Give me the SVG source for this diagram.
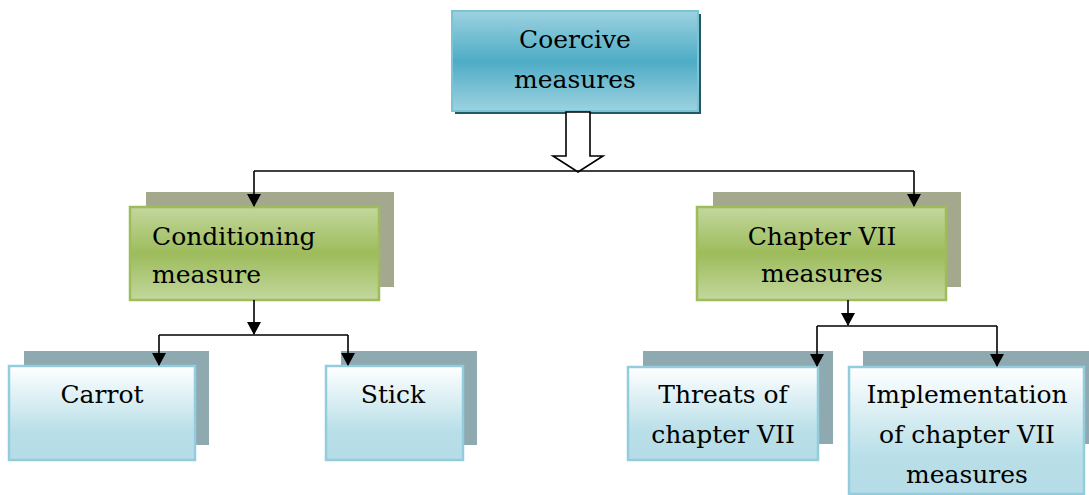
<svg xmlns="http://www.w3.org/2000/svg" width="1089" height="495" viewBox="0 0 1089 495">
<defs>
<linearGradient id="gTop" x1="0" y1="0" x2="0" y2="1">
<stop offset="0" stop-color="#9dd2e0"/><stop offset="0.5" stop-color="#4eacc6"/><stop offset="1" stop-color="#9dd2e0"/>
</linearGradient>
<linearGradient id="gGreen" x1="0" y1="0" x2="0" y2="1">
<stop offset="0" stop-color="#c3d79d"/><stop offset="0.5" stop-color="#9dbc5b"/><stop offset="1" stop-color="#c3d79d"/>
</linearGradient>
<linearGradient id="gBlue" x1="0" y1="0" x2="0" y2="1">
<stop offset="0" stop-color="#ffffff"/><stop offset="0.7" stop-color="#b8dfe8"/><stop offset="1" stop-color="#b6dde7"/>
</linearGradient>
<marker id="ah" markerWidth="14" markerHeight="14" refX="12" refY="7" orient="auto" markerUnits="userSpaceOnUse">
<path d="M0,0 L13,7 L0,14 Z" fill="#000"/>
</marker>
<style>
.c{text-anchor:middle}
.conn{fill:none;stroke:#000;stroke-width:1.6}
.shG{fill:#a4a98e}
.shB{fill:#8fa9b0}
.green{fill:url(#gGreen);stroke:#9dbc5b;stroke-width:2.5}
.blue{fill:url(#gBlue);stroke:#93cddd;stroke-width:2.5}
</style>
</defs>
<rect width="1089" height="495" fill="#fff"/>
<g font-family="'DejaVu Serif', 'Liberation Serif', serif" font-size="25" fill="#000">

<g id="coercive">
<rect x="455" y="14" width="246" height="100" fill="#215968"/>
<rect x="452" y="11" width="246" height="100" fill="url(#gTop)" stroke="#7cc3d6" stroke-width="2"/>
<text class="c" x="575" y="48">Coercive</text>
<text class="c" x="575" y="88">measures</text>
</g>

<g id="conditioning">
<rect class="shG" x="146" y="192" width="248" height="95"/>
<rect class="green" x="130" y="207" width="249" height="93"/>
<text x="152" y="245">Conditioning</text>
<text x="152" y="283">measure</text>
</g>

<g id="chapter7">
<rect class="shG" x="713" y="192" width="248" height="95"/>
<rect class="green" x="697" y="207" width="249" height="93"/>
<text class="c" x="822" y="245">Chapter VII</text>
<text class="c" x="822" y="282">measures</text>
</g>

<g id="carrot">
<rect class="shB" x="24" y="351" width="185" height="94"/>
<rect class="blue" x="9" y="366" width="186" height="94"/>
<text class="c" x="102" y="403">Carrot</text>
</g>

<g id="stick">
<rect class="shB" x="341" y="351" width="136" height="94"/>
<rect class="blue" x="326" y="366" width="137" height="94"/>
<text class="c" x="393" y="403">Stick</text>
</g>

<g id="threats">
<rect class="shB" x="643" y="351" width="190" height="93"/>
<rect class="blue" x="628" y="367" width="190" height="93"/>
<text class="c" x="723" y="403">Threats of</text>
<text class="c" x="723" y="443">chapter VII</text>
</g>

<g id="implementation">
<rect class="shB" x="863" y="351" width="230" height="93"/>
<rect class="blue" x="849" y="367" width="235" height="127"/>
<text class="c" x="967" y="403">Implementation</text>
<text class="c" x="967" y="443">of chapter VII</text>
<text class="c" x="967" y="483">measures</text>
</g>
</g>

<g id="connectors">
<polygon points="566,112 590,112 590,156 603,156 578,172 553,156 566,156" fill="#fff" stroke="#000" stroke-width="1.6"/>
<path class="conn" d="M254,171 L914,171"/>
<path class="conn" d="M254,171 L254,206" marker-end="url(#ah)"/>
<path class="conn" d="M914,171 L914,206" marker-end="url(#ah)"/>
<path class="conn" d="M254,300 L254,334" marker-end="url(#ah)"/>
<path class="conn" d="M159,335 L348,335"/>
<path class="conn" d="M159,335 L159,365" marker-end="url(#ah)"/>
<path class="conn" d="M348,335 L348,365" marker-end="url(#ah)"/>
<path class="conn" d="M848,300 L848,325" marker-end="url(#ah)"/>
<path class="conn" d="M817,326 L997,326"/>
<path class="conn" d="M817,326 L817,366" marker-end="url(#ah)"/>
<path class="conn" d="M997,326 L997,366" marker-end="url(#ah)"/>
</g>
</svg>
